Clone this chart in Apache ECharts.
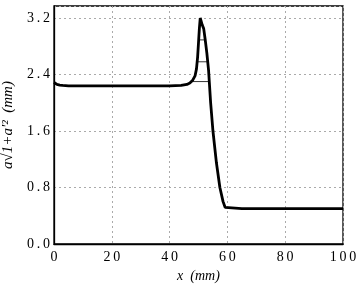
<!DOCTYPE html>
<html>
<head>
<meta charset="utf-8">
<script src="https://cdn.jsdelivr.net/npm/echarts@6/dist/echarts.min.js"></script>
<style>
html,body{margin:0;padding:0;background:#fff;}
#chart{width:361px;height:286px;}
</style>
</head>
<body>
<div id="chart"></div>
<script>
// profile along x (mm)
var xMain = [0,0.5,1,2,3,5,20,40,44,46,47,48,48.8,49.3,49.7,50.0,50.3,50.6,50.9,51.1,51.3,51.5,51.8,52.3,52.9,53.5,54.2,55,56.2,57.4,58.5,59.2,59.6,65,100];
var yMain = [2.29,2.27,2.26,2.25,2.245,2.24,2.24,2.24,2.245,2.26,2.28,2.32,2.38,2.48,2.65,2.85,3.05,3.2,3.22,3.18,3.1,3.12,3.05,2.9,2.7,2.45,2.0,1.6,1.15,0.8,0.6,0.52,0.5,0.5,0.5];
// thin curves that level off inside the peak
var xLvl1 = [49.95,52.4], yLvl1 = [2.89,2.89];
var xLvl2 = [49.7,53.1], yLvl2 = [2.58,2.58];
var xLvl3 = [47.4,53.7], yLvl3 = [2.30,2.30];
var yTicks = [0,0.8,1.6,2.4,3.2];

function pairs(xs,ys){
  var out=[];
  for(var i=0;i<xs.length;i++){ out.push([xs[i],ys[i]]); }
  return out;
}
function spaced(s){ return String(s).split('').join('\u2009'); }

var chart = echarts.init(document.getElementById('chart'));
var font = 'Liberation Serif';

chart.setOption({
  animation:false,
  grid:{left:54,right:18,top:6,bottom:42,outerBoundsMode:'none',containLabel:false,
        show:true,borderColor:'#000',borderWidth:1.3},
  xAxis:{
    type:'value',min:0,max:100,interval:20,
    name:'x  (mm)',nameLocation:'middle',nameGap:21,
    nameTextStyle:{fontFamily:font,fontStyle:'italic',fontSize:14,color:'#000'},
    axisLine:{show:true,lineStyle:{color:'#000',width:1.3}},
    axisTick:{show:false},
    axisLabel:{fontFamily:font,fontSize:14,color:'#000',margin:6,
      formatter:function(v){return spaced(v);}},
    splitLine:{show:true,lineStyle:{color:'#aaa',type:[2,3],width:1}}
  },
  yAxis:{
    type:'value',min:0,max:3.37,interval:0.8,
    name:'a\u221A1+a\u2032\u00B2  (mm)',nameLocation:'middle',nameGap:32,
    nameTextStyle:{fontFamily:font,fontStyle:'italic',fontSize:15,color:'#000'},
    axisLine:{show:true,lineStyle:{color:'#000',width:1.3}},
    axisTick:{show:false},
    axisLabel:{fontFamily:font,fontSize:14,color:'#000',margin:4,
      formatter:function(v){
        for(var i=0;i<yTicks.length;i++){ if(Math.abs(v-yTicks[i])<1e-6) return spaced(yTicks[i].toFixed(1)); }
        return '';
      }},
    splitLine:{show:true,lineStyle:{color:'#aaa',type:[2,3],width:1}}
  },
  series:[
    {type:'line',data:pairs(xLvl3,yLvl3),showSymbol:false,lineStyle:{color:'#000',width:0.8}},
    {type:'line',data:pairs(xLvl2,yLvl2),showSymbol:false,lineStyle:{color:'#000',width:0.8}},
    {type:'line',data:pairs(xLvl1,yLvl1),showSymbol:false,lineStyle:{color:'#000',width:0.8}},
    {type:'line',data:pairs(xMain,yMain),showSymbol:false,lineStyle:{color:'#000',width:2.8}}
  ]
});
</script>
</body>
</html>
